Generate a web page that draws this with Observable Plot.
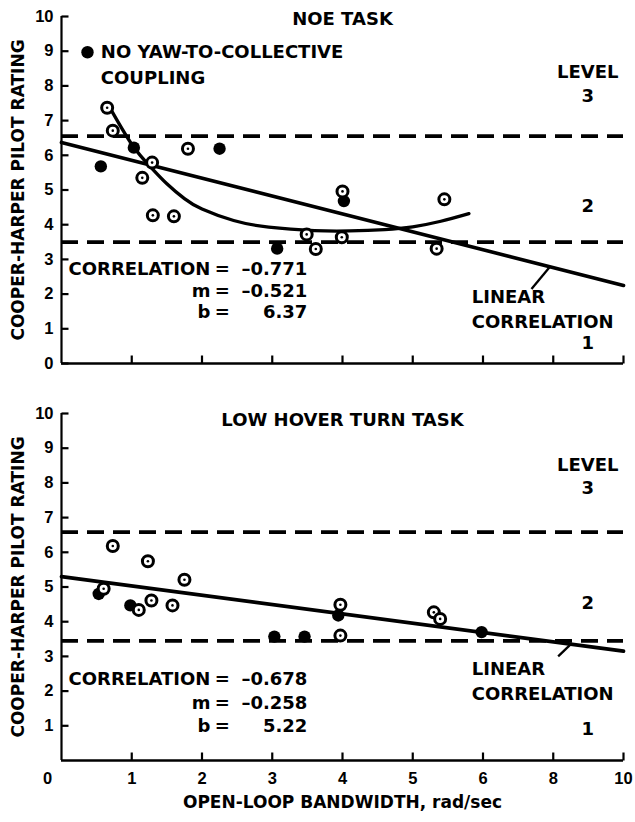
<!DOCTYPE html>
<html>
<head>
<meta charset="utf-8">
<script src="https://cdn.jsdelivr.net/npm/d3@7"></script>
<script src="https://cdn.jsdelivr.net/npm/@observablehq/plot@0.6"></script>
<style>
  body { margin: 0; background: #fff; }
  #chart { width: 635px; }
  #chart svg { display: block; background: #fff; }
  g[aria-label="annotation"] text { letter-spacing: 1px; }
  g[aria-label="stat value"] text { letter-spacing: 0.5px; }
</style>
</head>
<body>
<div id="chart"></div>
<script>
// ---------- axis ticks (tick positions are equally spaced; labels as printed) ----------
const xTickPos = [0, 1, 2, 3, 4, 5, 6, 7, 8];
const xTickLabels = ["0", "1", "2", "3", "4", "5", "6", "8", "10"];
const yTicksTop = [0, 1, 2, 3, 4, 5, 6, 7, 8, 9, 10];
const yTicksBottom = [1, 2, 3, 4, 5, 6, 7, 8, 9, 10];
const yTitle = "COOPER-HARPER PILOT RATING";
const xTitle = "OPEN-LOOP BANDWIDTH, rad/sec";

// ---------- NOE task (top panel) ----------
const noeLevels = [6.55, 3.5];
const noeOpenX = [0.65, 0.73, 1.15, 1.29, 1.30, 1.60, 1.80, 3.49, 3.62, 4.00, 3.99, 5.34, 5.45];
const noeOpenY = [7.37, 6.71, 5.35, 5.79, 4.27, 4.24, 6.19, 3.72, 3.30, 4.96, 3.64, 3.31, 4.73];
const noeFilledX = [0.56, 1.03, 2.25, 3.07, 4.02];
const noeFilledY = [5.68, 6.22, 6.19, 3.31, 4.68];
const noeLegendX = [0.37];
const noeLegendY = [8.97];
const noeCurveX = [0.67, 1.0, 1.27, 1.5, 1.75, 2.0, 2.45, 2.95, 3.6, 4.1, 4.6, 5.0, 5.4, 5.8];
const noeCurveY = [7.44, 6.32, 5.66, 5.18, 4.75, 4.45, 4.12, 3.93, 3.83, 3.82, 3.86, 3.94, 4.1, 4.32];
const noeLineX = [0, 8];
const noeLineY = [6.37, 2.25];
const noeLeaderX = [6.69, 6.95];
const noeLeaderY = [2.15, 2.78];

// ---------- Low hover turn task (bottom panel) ----------
const hovLevels = [6.58, 3.45];
const hovOpenX = [0.73, 1.23, 1.75, 0.60, 1.10, 1.28, 1.58, 3.97, 3.97, 5.30, 5.39];
const hovOpenY = [6.18, 5.74, 5.21, 4.95, 4.34, 4.61, 4.47, 3.60, 4.49, 4.27, 4.08];
const hovFilledX = [0.53, 0.98, 3.03, 3.46, 3.94, 5.98];
const hovFilledY = [4.80, 4.47, 3.57, 3.57, 4.18, 3.70];
const hovLineX = [0, 8];
const hovLineY = [5.3, 3.15];
const hovLeaderX = [7.07, 7.24];
const hovLeaderY = [3.0, 3.33];

// ---------- annotations ----------
const noeTitle = "NOE TASK";
const hovTitle = "LOW HOVER TURN TASK";
const legendLines = ["NO YAW-TO-COLLECTIVE", "COUPLING"];
const levelLabels = ["LEVEL", "3", "2", "1"];
const linearLabels = ["LINEAR", "CORRELATION"];
const statNames = ["CORRELATION", "m", "b"];
const noeStats = ["\u20130.771", "\u20130.521", "6.37"];
const hovStats = ["\u20130.678", "\u20130.258", "5.22"];

// annotation anchors in data units (x in tick positions, y in rating)
const noeTextY = {title: 9.91, legend: [8.97, 8.23], level: [8.39, 7.69, 4.52, 0.58], linear: [1.91, 1.19], stats: [2.71, 2.08, 1.48]};
const hovTextY = {title: 9.8, level: [8.52, 7.85, 4.54, 0.89], linear: [2.62, 1.90], stats: [2.33, 1.66, 1.0]};

const NUM_FONT = "Liberation Sans, Arial, sans-serif";
const TXT_FONT = "DejaVu Sans, sans-serif";

const tickRight = {draw(ctx) { ctx.moveTo(0, 0); ctx.lineTo(7, 0); }};
const tickUp = {draw(ctx) { ctx.moveTo(0, 0); ctx.lineTo(0, -8); }};

const zip = (xs, ys) => xs.map((x, i) => ({x, y: ys[i]}));

function panel(o) {
  const txt = {fontFamily: TXT_FONT, fontWeight: "bold", fontSize: 18, fill: "black", ariaLabel: "annotation"};
  const ttl = {...txt, fontSize: 17};
  const num = {fontFamily: NUM_FONT, fontWeight: "bold", fontSize: 16.5, fill: "black"};
  const open = zip(o.openX, o.openY);
  const filled = zip(o.filledX, o.filledY);
  const marks = [
    Plot.ruleY(o.levels, {y: d => d, stroke: "black", strokeWidth: 3.8, strokeDasharray: "17,9"}),
    Plot.ruleX([0], {x: d => d, stroke: "black", strokeWidth: 2.2}),
    Plot.ruleY([0], {y: d => d, stroke: "black", strokeWidth: 2.6}),
    Plot.dot(o.yTicks, {y: d => d, frameAnchor: "left", symbol: tickRight, stroke: "black", strokeWidth: 2.2, fill: "none"}),
    Plot.dot(xTickPos.slice(1), {x: d => d, frameAnchor: "bottom", symbol: tickUp, stroke: "black", strokeWidth: 2.2, fill: "none"}),
    Plot.text(o.yTicks, {y: d => d, frameAnchor: "left", text: d => String(d), dx: -8, textAnchor: "end", ...num}),
    Plot.text([yTitle], {frameAnchor: "left", text: d => d, rotate: -90, dx: -43, textAnchor: "middle", ...ttl}),
  ];
  if (o.curveX) marks.push(Plot.line(zip(o.curveX, o.curveY), {x: "x", y: "y", curve: "natural", stroke: "black", strokeWidth: 3.3}));
  marks.push(
    Plot.line(zip(o.lineX, o.lineY), {x: "x", y: "y", stroke: "black", strokeWidth: 3.7}),
    Plot.link([0], {x1: () => o.leaderX[0], y1: () => o.leaderY[0], x2: () => o.leaderX[1], y2: () => o.leaderY[1], stroke: "black", strokeWidth: 2.3}),
    Plot.dot(filled, {x: "x", y: "y", r: 6.2, fill: "black"}),
    Plot.dot(open, {x: "x", y: "y", r: 5.5, fill: "white", stroke: "black", strokeWidth: 3}),
    Plot.dot(open, {x: "x", y: "y", r: 1.3, fill: "black"}),
    // title
    Plot.text([o.title], {x: () => 4, y: () => o.ty.title, text: d => d, textAnchor: "middle", ...txt}),
    // level labels
    Plot.text(levelLabels, {x: () => 7.49, y: (d, i) => o.ty.level[i], text: d => d, textAnchor: "middle", ...txt}),
    // linear correlation label
    Plot.text(linearLabels, {x: () => 5.84, y: (d, i) => o.ty.linear[i], text: d => d, textAnchor: "start", ...txt}),
    // statistics block
    Plot.text(statNames, {x: () => 2.12, y: (d, i) => o.ty.stats[i], text: d => d, textAnchor: "end", ...txt}),
    Plot.text(statNames, {x: () => 2.29, y: (d, i) => o.ty.stats[i], text: () => "=", textAnchor: "middle", ...txt}),
    Plot.text(o.stats, {x: () => 3.5, y: (d, i) => o.ty.stats[i], text: d => d, textAnchor: "end", ...txt, ariaLabel: "stat value"})
  );
  if (o.legendX) {
    marks.push(
      Plot.dot(zip(o.legendX, o.legendY), {x: "x", y: "y", r: 6.2, fill: "black"}),
      Plot.text(legendLines, {x: () => 0.56, y: (d, i) => o.ty.legend[i], text: d => d, textAnchor: "start", ...txt})
    );
  }
  if (o.xLabels) {
    marks.push(
      Plot.text(xTickPos.slice(0, 1), {x: d => d, frameAnchor: "bottom", text: (d, i) => xTickLabels[i], dy: 23, dx: -14, textAnchor: "middle", ...num}),
      Plot.text(xTickPos.slice(1), {x: d => d, frameAnchor: "bottom", text: (d, i) => xTickLabels[i + 1], dy: 23, textAnchor: "middle", ...num}),
      Plot.text([xTitle], {frameAnchor: "bottom", text: d => d, dy: 47, textAnchor: "middle", ...ttl})
    );
  }
  return Plot.plot({
    width: 635,
    height: o.height,
    marginTop: o.mt,
    marginBottom: o.mb,
    marginLeft: 61,
    marginRight: 12,
    x: {domain: [0, 8], axis: null},
    y: {domain: [0, 10], axis: null},
    style: {background: "white", color: "black", overflow: "visible"},
    marks
  });
}

const chart = document.getElementById("chart");
chart.appendChild(panel({
  height: 380, mt: 16, mb: 17, yTicks: yTicksTop, levels: noeLevels,
  openX: noeOpenX, openY: noeOpenY, filledX: noeFilledX, filledY: noeFilledY,
  legendX: noeLegendX, legendY: noeLegendY,
  curveX: noeCurveX, curveY: noeCurveY, lineX: noeLineX, lineY: noeLineY,
  leaderX: noeLeaderX, leaderY: noeLeaderY,
  title: noeTitle, stats: noeStats, ty: noeTextY, xLabels: false
}));
chart.appendChild(panel({
  height: 442, mt: 33, mb: 62, yTicks: yTicksBottom, levels: hovLevels,
  openX: hovOpenX, openY: hovOpenY, filledX: hovFilledX, filledY: hovFilledY,
  lineX: hovLineX, lineY: hovLineY,
  leaderX: hovLeaderX, leaderY: hovLeaderY,
  title: hovTitle, stats: hovStats, ty: hovTextY, xLabels: true
}));
</script>
</body>
</html>
